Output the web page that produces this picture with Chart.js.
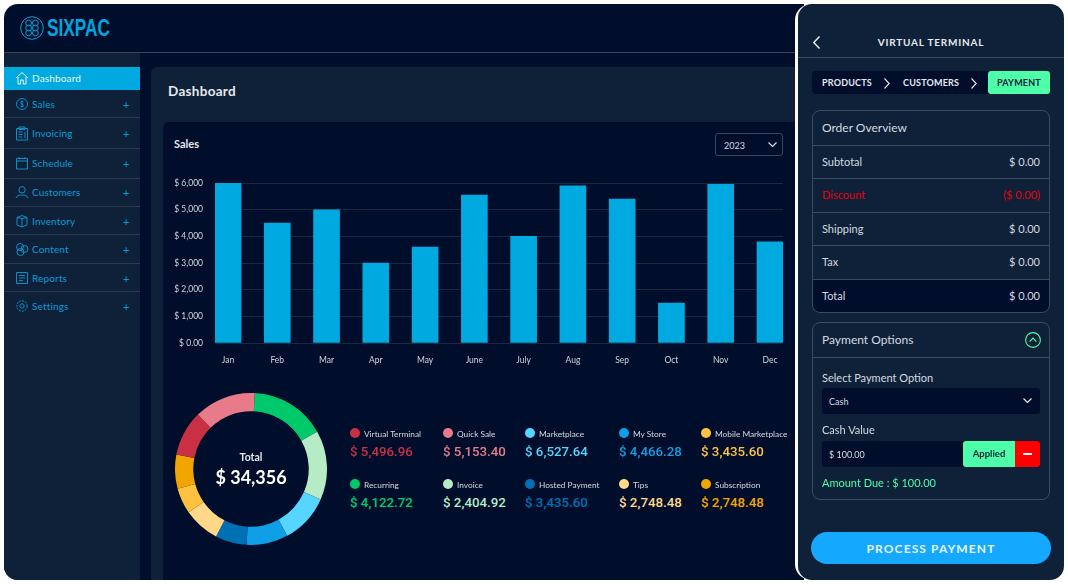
<!DOCTYPE html>
<html>
<head>
<meta charset="utf-8">
<title>Sixpac Dashboard</title>
<script src="https://cdn.jsdelivr.net/npm/chart.js@4"></script>
<style>
html, body { margin: 0; padding: 0; background: #fff; width: 1068px; height: 584px; overflow: hidden; font-family: Lato, sans-serif; }
.box { position: absolute; box-sizing: border-box; }
.t { position: absolute; white-space: nowrap; line-height: 1; transform: translateY(-50%); }
.r { transform: translate(-100%, -50%); }
.c { transform: translate(-50%, -50%); }
svg { position: absolute; overflow: visible; fill: none; }
canvas { position: absolute; }
.nav { color: #0a9bd6; font-size: 10px; letter-spacing: .15px; left: 32px; margin-top: -.5px; }
.plus { color: #0a9bd6; font-size: 11px; left: 123px; margin-top: -.5px; }
.rowt { color: #d5dae0; font-size: 11px; left: 822px; margin-top: -1px; }
.rowv { color: #d5dae0; font-size: 11px; left: 1040px; margin-top: -1px; }
.line { position: absolute; height: 1px; background: #2a3a52; }
</style>
</head>
<body>
<!-- left window -->
<div class="box" style="left:4px;top:4px;width:800px;height:576px;background:#000e2b;border-radius:14px 0 0 14px"></div>
<div class="box" style="left:4px;top:52px;width:791px;height:1px;background:#3a4658"></div>
<div class="box" style="left:4px;top:53px;width:136px;height:527px;background:#0f2138;border-radius:0 0 0 14px"></div>
<div class="box" style="left:151px;top:67px;width:650px;height:513px;background:#0f2138;border-radius:6px 0 0 0"></div>
<div class="box" style="left:163px;top:122px;width:640px;height:458px;background:#000e2b;border-radius:6px 0 0 0"></div>

<!-- logo -->
<svg style="left:20px;top:16px" width="24" height="24" viewBox="0 0 24 24" stroke="#00a5dd" stroke-width="1">
  <circle cx="12" cy="12" r="11.3"/><circle cx="8.6" cy="7" r="2.9"/><circle cx="15.4" cy="7" r="2.9"/>
  <circle cx="8.6" cy="12" r="2.9"/><circle cx="15.4" cy="12" r="2.9"/><circle cx="8.6" cy="17" r="2.9"/><circle cx="15.4" cy="17" r="2.9"/>
</svg>
<div class="t" style="left:47px;top:28px;font-family:'Liberation Sans';font-weight:700;font-size:24px;color:#00a5dd;transform-origin:left center;transform:translateY(-50%) scaleX(.72)">SIXPAC</div>

<!-- sidebar -->
<div class="box" style="left:4px;top:67px;width:136px;height:23px;background:#00a9e0"></div>
<div id="navList"></div>

<!-- page header -->
<div class="t" style="left:168px;top:92px;font-size:13.5px;font-weight:700;color:#e6e9ee;letter-spacing:.3px">Dashboard</div>
<div class="t" style="left:174px;top:143px;font-size:11px;font-weight:700;color:#e6e9ee">Sales</div>
<div class="box" style="left:715px;top:133px;width:68px;height:23px;border:1px solid #3a4658;border-radius:3px"></div>
<div class="t" style="left:724px;top:144.5px;font-size:9px;color:#d5dae0">2023</div>
<svg style="left:768px;top:142px" width="9" height="5" stroke="#d5dae0" stroke-width="1.2"><path d="M0.5 0.5 L4.5 4.5 L8.5 0.5"/></svg>

<!-- charts -->
<canvas id="salesChart" style="left:163px;top:166px" width="630" height="209"></canvas>
<canvas id="shareChart" style="left:175px;top:393px" width="152" height="152"></canvas>
<div class="t c" style="left:251px;top:457px;font-size:10.5px;font-weight:700;color:#e6e9ee">Total</div>
<div class="t c" style="left:251px;top:477px;font-size:18px;font-weight:700;color:#fff">$ 34,356</div>
<div id="legendList"></div>

<!-- white gap and right panel -->
<div class="box" style="left:795px;top:4px;width:273px;height:576px;background:#fff;border-radius:16px 0 0 16px"></div>
<div class="box" style="left:798px;top:4px;width:266px;height:576px;background:#0f2138;border-radius:14px"></div>
<svg style="left:813px;top:36px" width="8" height="13" stroke="#e6e9ee" stroke-width="1.5"><path d="M6.5 0.5 L0.8 6.5 L6.5 12.5"/></svg>
<div class="t c" style="left:931px;top:42px;font-size:10px;font-weight:700;letter-spacing:.8px;color:#e6e9ee">VIRTUAL TERMINAL</div>
<div class="box" style="left:798px;top:57px;width:266px;height:1px;background:#3a4a60"></div>

<div class="box" style="left:812px;top:71px;width:238px;height:23px;background:#000e2b;border-radius:4px"></div>
<div class="t" style="left:822px;top:81.5px;font-size:9px;font-weight:700;color:#e6e9ee;letter-spacing:.2px">PRODUCTS</div>
<svg style="left:884px;top:78px" width="6" height="11" stroke="#e6e9ee" stroke-width="1.1"><path d="M0.5 0.5 L5.2 5.5 L0.5 10.5"/></svg>
<div class="t" style="left:903px;top:81.5px;font-size:9px;font-weight:700;color:#e6e9ee;letter-spacing:.2px">CUSTOMERS</div>
<svg style="left:971px;top:78px" width="6" height="11" stroke="#e6e9ee" stroke-width="1.1"><path d="M0.5 0.5 L5.2 5.5 L0.5 10.5"/></svg>
<div class="box" style="left:988px;top:71px;width:62px;height:23px;background:#4cffa8;border-radius:3px"></div>
<div class="t c" style="left:1019px;top:81.5px;font-size:9px;font-weight:700;color:#0f2138;letter-spacing:.2px">PAYMENT</div>

<div class="box" style="left:812px;top:279px;width:238px;height:33px;background:#000e2b;border-radius:0 0 8px 8px"></div>
<div class="box" style="left:812px;top:110px;width:238px;height:203px;border:1px solid #3a4a60;border-radius:8px"></div>
<div class="line" style="left:812px;top:145px;width:238px;background:#3a4a60"></div>
<div class="line" style="left:812px;top:178px;width:238px;background:#3a4a60"></div>
<div class="line" style="left:812px;top:212px;width:238px;background:#3a4a60"></div>
<div class="line" style="left:812px;top:245px;width:238px;background:#3a4a60"></div>
<div class="line" style="left:812px;top:279px;width:238px;background:#3a4a60"></div>
<div class="t rowt" style="top:129px;font-size:12px">Order Overview</div>
<div class="t rowt" style="top:161.5px">Subtotal</div><div class="t r rowv" style="top:161.5px">$ 0.00</div>
<div class="t rowt" style="top:195px;color:#e3000f">Discount</div><div class="t r rowv" style="top:195px;color:#e3000f">($ 0.00)</div>
<div class="t rowt" style="top:228.5px">Shipping</div><div class="t r rowv" style="top:228.5px">$ 0.00</div>
<div class="t rowt" style="top:262px">Tax</div><div class="t r rowv" style="top:262px">$ 0.00</div>
<div class="t rowt" style="top:295.5px">Total</div><div class="t r rowv" style="top:295.5px">$ 0.00</div>

<div class="box" style="left:812px;top:322px;width:238px;height:178px;border:1px solid #3a4a60;border-radius:8px"></div>
<div class="line" style="left:812px;top:357px;width:238px;background:#3a4a60"></div>
<div class="t rowt" style="top:341px;font-size:12px">Payment Options</div>
<svg style="left:1025px;top:332px" width="16" height="16" stroke="#4cffa8" stroke-width="1.1"><circle cx="8" cy="8" r="7.4"/><path d="M4.6 9.6 L8 6 L11.4 9.6"/></svg>
<div class="t rowt" style="top:378px">Select Payment Option</div>
<div class="box" style="left:822px;top:388px;width:218px;height:26px;background:#000e2b;border-radius:3px"></div>
<div class="t" style="left:829px;top:400.5px;font-size:9px;color:#d5dae0">Cash</div>
<svg style="left:1023px;top:398px" width="9" height="5" stroke="#e6e9ee" stroke-width="1.2"><path d="M0.5 0.5 L4.5 4.5 L8.5 0.5"/></svg>
<div class="t rowt" style="top:430px">Cash Value</div>
<div class="box" style="left:822px;top:441px;width:218px;height:26px;background:#000e2b;border-radius:3px"></div>
<div class="t" style="left:829px;top:453.5px;font-size:9px;color:#d5dae0">$ 100.00</div>
<div class="box" style="left:963px;top:441px;width:52px;height:26px;background:#4cffa8;border-radius:3px 0 0 3px"></div>
<div class="t c" style="left:989px;top:454px;font-size:9.5px;font-weight:700;color:#0f2138">Applied</div>
<div class="box" style="left:1015px;top:441px;width:25px;height:26px;background:#ff0000;border-radius:0 3px 3px 0"></div>
<div class="box" style="left:1023px;top:453px;width:9px;height:1.5px;background:#fff"></div>
<div class="t rowt" style="top:483px;color:#4cffa8">Amount Due : $ 100.00</div>

<div class="box" style="left:811px;top:532px;width:240px;height:32px;background:#15a8ff;border-radius:16px"></div>
<div class="t c" style="left:931px;top:548.5px;font-size:12px;font-weight:700;letter-spacing:1.1px;color:#e6f4ff">PROCESS PAYMENT</div>

<script>
// Bar chart data
const months = ['Jan', 'Feb', 'Mar', 'Apr', 'May', 'June', 'July', 'Aug', 'Sep', 'Oct', 'Nov', 'Dec'];
const monthlySales = [6000, 4500, 5000, 3000, 3600, 5550, 4000, 5900, 5400, 1500, 5950, 3800];
const salesTicks = ['$ 0.00', '$ 1,000', '$ 2,000', '$ 3,000', '$ 4,000', '$ 5,000', '$ 6,000'];

// Doughnut data, slices (clockwise from the top)
const channels = ['Recurring', 'Invoice', 'Marketplace', 'My Store', 'Hosted Payment', 'Tips', 'Mobile Marketplace', 'Subscription', 'Virtual Terminal', 'Quick Sale'];
const channelShares = [57.8, 53, 38, 31.8, 24, 27.8, 19.7, 26.1, 34.7, 47.1];
const channelColors = ['#00c96b', '#b5ecc5', '#55d5ff', '#109fe6', '#0070b5', '#ffd88a', '#ffc240', '#f2a500', '#c93044', '#e87a8a'];

// Legend grid, in reading order
const legendNames = ['Virtual Terminal', 'Quick Sale', 'Marketplace', 'My Store', 'Mobile Marketplace', 'Recurring', 'Invoice', 'Hosted Payment', 'Tips', 'Subscription'];
const legendAmounts = ['$ 5,496.96', '$ 5,153.40', '$ 6,527.64', '$ 4,466.28', '$ 3,435.60', '$ 4,122.72', '$ 2,404.92', '$ 3,435.60', '$ 2,748.48', '$ 2,748.48'];

const navItems = ['Sales', 'Invoicing', 'Schedule', 'Customers', 'Inventory', 'Content', 'Reports', 'Settings'];

Chart.defaults.font.family = 'Lato, sans-serif';
Chart.defaults.animation = false;

// Sidebar
const navY = [104, 133, 163, 192, 221, 249, 278, 306];
const navLines = [117, 148, 178, 206, 234, 263, 291];
const navIcons = [
    '<circle cx="6" cy="6" r="5.5"/><path d="M7.5 4 C6.5 3 4.5 3.3 4.5 4.6 C4.5 6 7.5 6 7.5 7.4 C7.5 8.7 5.5 9 4.5 8 M6 2.5 V9.5"/>',
    '<path d="M0.5 1.5 H11.5 V13 H0.5 Z M3 0 H9 V2.5 H3 Z M2.5 5 H6.5 M2.5 7.5 H6.5 M2.5 10 H6.5 M9 5 V11"/>',
    '<path d="M0.5 1.5 H11.5 V12 H0.5 Z M0.5 4 H11.5 M3 0 V2 M9 0 V2"/>',
    '<circle cx="6" cy="3.8" r="3.2"/><path d="M0 12 C0.8 8 11.2 8 12 12"/>',
    '<path d="M1 2.5 L6 0.5 L11 2.5 V10 L6 12 L1 10 Z M6 3.5 V12 M1 2.5 L6 3.5 L11 2.5"/>',
    '<circle cx="4" cy="4" r="3.5"/><circle cx="8.5" cy="6" r="3.5"/><circle cx="4.5" cy="9" r="3.5"/>',
    '<path d="M0.5 0.5 H11.5 V11.5 H0.5 Z M3 3.5 H9 M3 6 H9 M3 8.5 H7"/>',
    '<circle cx="6" cy="6" r="2.2"/><circle cx="6" cy="6" r="5.2" stroke-dasharray="2 1"/>'
];
const navBox = document.getElementById('navList');
let navHtml = '<svg style="left:16px;top:72px" width="12" height="12" stroke="#fff" stroke-width=".9"><path d="M0 6 L6 0.5 L12 6 M2 5 V12 H4.7 V8 H7.3 V12 H10 V5"/></svg>' +
    '<div class="t nav" style="top:78.5px;color:#e8f6fc">Dashboard</div>';
navItems.forEach((name, i) => {
    navHtml += `<svg style="left:16px;top:${navY[i] - 6}px" width="12" height="13" stroke="#0a9bd6" stroke-width=".9">${navIcons[i]}</svg>`;
    navHtml += `<div class="t nav" style="top:${navY[i]}px">${name}</div>`;
    navHtml += `<div class="t plus" style="top:${navY[i]}px">+</div>`;
});
navLines.forEach(y => {
    navHtml += `<div class="line" style="left:4px;top:${y}px;width:136px"></div>`;
});
navBox.innerHTML = navHtml;

// Legend
const legendX = [350, 443, 525, 619, 701];
const legendY = [433, 484];
let legendHtml = '';
legendNames.forEach((name, i) => {
    const x = legendX[i % 5];
    const y = legendY[Math.floor(i / 5)];
    const color = channelColors[channels.indexOf(name)];
    legendHtml += `<div class="box" style="left:${x}px;top:${y - 5}px;width:10px;height:10px;border-radius:50%;background:${color}"></div>`;
    legendHtml += `<div class="t" style="left:${x + 14}px;top:${y + 0.5}px;font-size:8.3px;color:#d5dae0">${name}</div>`;
    legendHtml += `<div class="t" style="left:${x}px;top:${y + 18.5}px;font-family:Roboto,sans-serif;font-size:13.3px;font-weight:500;color:${color}">${legendAmounts[i]}</div>`;
});
document.getElementById('legendList').innerHTML = legendHtml;

// Sales bars, on a linear x axis so the first and last bar sit flush with the plot edges
new Chart(document.getElementById('salesChart'), {
    type: 'bar',
    data: {
        datasets: [{
            data: monthlySales.map((v, i) => ({ x: i, y: v })),
            backgroundColor: '#00a9e0',
            barThickness: 26
        }]
    },
    options: {
        responsive: false,
        layout: { padding: { top: 9, right: 10, bottom: 0, left: 0 } },
        plugins: { legend: { display: false }, tooltip: { enabled: false } },
        scales: {
            x: {
                type: 'linear',
                offset: false,
                min: -0.264,
                max: 11.264,
                grid: { display: false },
                border: { display: false },
                afterFit: s => { s.height = 32; },
                ticks: {
                    stepSize: 1,
                    includeBounds: false,
                    autoSkip: false,
                    maxRotation: 0,
                    padding: 4,
                    color: '#d0d4da',
                    font: { size: 8.5 },
                    callback: v => months[v] || ''
                }
            },
            y: {
                min: 0,
                max: 6000,
                grid: { color: '#1a2a45', drawTicks: false },
                border: { display: false },
                afterFit: s => { s.width = 52; },
                ticks: {
                    stepSize: 1000,
                    padding: 12,
                    color: '#d0d4da',
                    font: { size: 8.5 },
                    callback: v => salesTicks[v / 1000]
                }
            }
        }
    }
});

// Channel ring
new Chart(document.getElementById('shareChart'), {
    type: 'doughnut',
    data: {
        labels: channels,
        datasets: [{ data: channelShares, backgroundColor: channelColors, borderWidth: 0 }]
    },
    options: {
        responsive: false,
        rotation: 2.8,
        cutout: '76%',
        plugins: { legend: { display: false }, tooltip: { enabled: false } }
    }
});
</script>
</body>
</html>
